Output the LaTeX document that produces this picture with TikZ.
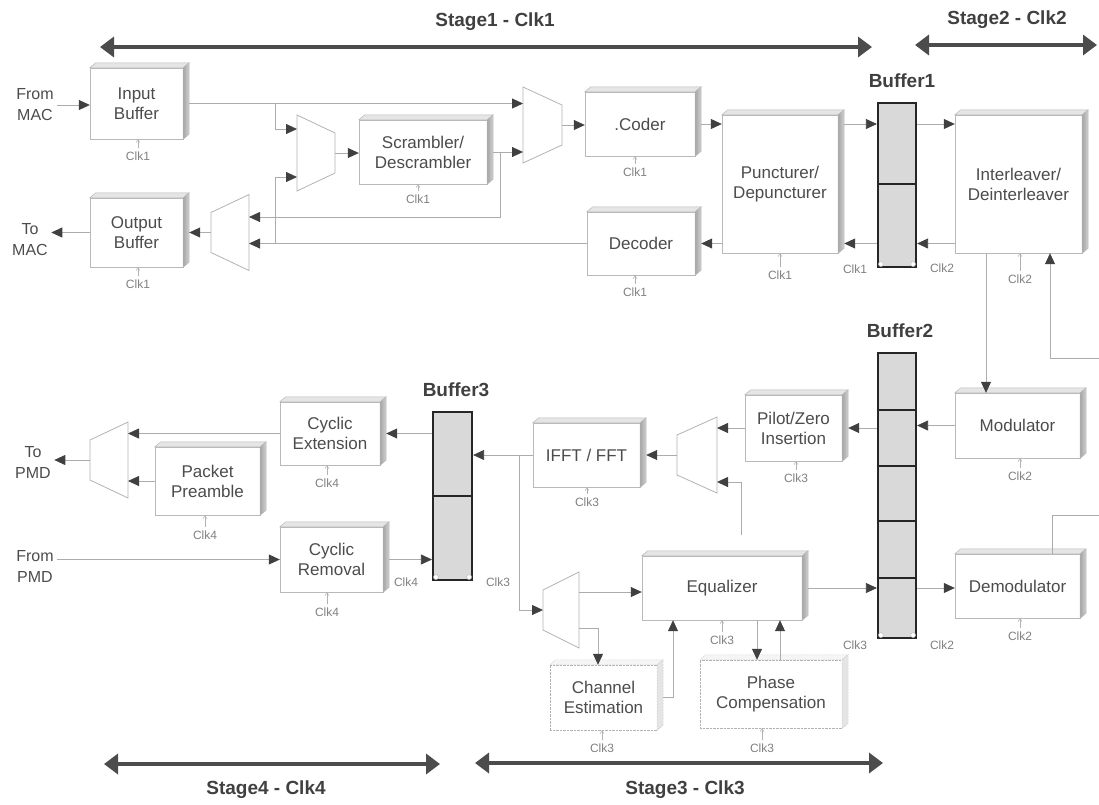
\documentclass[tikz,border=0pt]{standalone}
\usepackage{fontspec}
\setmainfont{Liberation Sans}
\usepackage{tikz}
\usetikzlibrary{arrows.meta}

\tikzset{
  blk/.style={draw=gray!55, fill=white, text=black!70, align=center,
    inner sep=0pt, font=\fontsize{17}{20}\selectfont},
  dblk/.style={blk, draw=gray!60, densely dotted},
  clklbl/.style={text=black!50, font=\fontsize{12}{14}\selectfont},
  bigl/.style={text=black!75, font=\bfseries\fontsize{19}{22}\selectfont},
  iolbl/.style={text=black!70, align=center, font=\fontsize{16}{21}\selectfont},
  conn/.style={draw=gray!65, line width=0.8pt,
    -{Triangle[length=11pt,width=10pt,color=black!75]}},
  wire/.style={draw=gray!65, line width=0.8pt},
  clkarr/.style={draw=gray!60, line width=0.5pt, -{Straight Barb[length=3pt,width=4pt]}},
  muxline/.style={draw=gray!60, line width=0.8pt},
  bufbox/.style={draw=black!85, line width=2.2pt, fill=gray!30},
  bufline/.style={draw=black!85, line width=1.6pt},
  stage/.style={draw=black!70, line width=4.5pt,
    {Triangle[length=14pt,width=20pt]}-{Triangle[length=14pt,width=20pt]}},
  topface/.style={fill=gray!20, draw=gray!55, line width=0.5pt},
  sideface/.style={left color=gray!70, right color=gray!35, draw=gray!55, line width=0.5pt},
  dtopface/.style={fill=gray!8, draw=gray!55, line width=0.5pt, densely dotted},
  dsideface/.style={fill=gray!20, draw=gray!55, line width=0.5pt, densely dotted}
}

% mux: name, long side x, short side x, centre y, pin offset
\newcommand{\muxbox}[5]{%
  \draw[muxline] (#2,#4-38) -- (#3,#4-20) -- (#3,#4+20) -- (#2,#4+38) -- cycle;
  \coordinate (#1-l) at (#2,#4);
  \coordinate (#1-a) at (#2,#4-#5);
  \coordinate (#1-b) at (#2,#4+#5);
  \coordinate (#1-s) at (#3,#4);
}

\begin{document}
\begin{tikzpicture}[x=1pt, y=-1pt]
\useasboundingbox (0,0) rectangle (1099,804);

% stages
\coordinate (s1l) at (100,47);  \coordinate (s1r) at (872,47);
\coordinate (s2l) at (915,45);  \coordinate (s2r) at (1097,45);
\coordinate (s4l) at (104,764); \coordinate (s4r) at (440,764);
\coordinate (s3l) at (475,763); \coordinate (s3r) at (883,763);
\draw[stage] (s1l) -- (s1r);
\draw[stage] (s2l) -- (s2r);
\draw[stage] (s4l) -- (s4r);
\draw[stage] (s3l) -- (s3r);
\node[bigl] (st1) at (495,22) {Stage1 - Clk1};
\node[bigl] (st2) at (1007,20) {Stage2 - Clk2};
\node[bigl] (st4) at (266,790) {Stage4 - Clk4};
\node[bigl] (st3) at (685,790) {Stage3 - Clk3};

% in / out
\node[iolbl] (frommac) at (35,105) {From\\MAC};
\node[iolbl] (tomac) at (30,240) {To\\MAC};
\node[iolbl] (topmd) at (33,462) {To\\PMD};
\node[iolbl] (frompmd) at (35,566) {From\\PMD};

% blocks
\node[blk, minimum width=93, minimum height=71] (inbuf) at (136.5,103.5) {Input\\Buffer};
\node[blk, minimum width=93, minimum height=69] (outbuf) at (136.5,232.5) {Output\\Buffer};
\node[blk, minimum width=128, minimum height=64] (scr) at (423,152) {Scrambler/\\Descrambler};
\node[blk, minimum width=110, minimum height=64] (coder) at (640,124) {.Coder};
\node[blk, minimum width=108, minimum height=63] (dec) at (641,243.5) {Decoder};
\node[blk, minimum width=116, minimum height=138] (punct) at (780,184) {Puncturer/\\Depuncturer};
\node[blk, minimum width=127, minimum height=138] (inter) at (1018.5,184) {Interleaver/\\Deinterleaver};
\node[blk, minimum width=125, minimum height=65] (modu) at (1017.5,425.5) {Modulator};
\node[blk, minimum width=125, minimum height=64] (demod) at (1017.5,586) {Demodulator};
\node[blk, minimum width=97, minimum height=66] (pilot) at (793.5,428) {Pilot/Zero\\Insertion};
\node[blk, minimum width=107, minimum height=64] (ifft) at (586.5,455) {IFFT / FFT};
\node[blk, minimum width=160, minimum height=64] (equal) at (722,588) {Equalizer};
\node[dblk, minimum width=107, minimum height=65] (chest) at (603.5,697.5) {Channel\\Estimation};
\node[dblk, minimum width=142, minimum height=68] (phase) at (771,694) {Phase\\Compensation};
\node[blk, minimum width=100, minimum height=63] (cycext) at (330,433.5) {Cyclic\\Extension};
\node[blk, minimum width=105, minimum height=68] (pream) at (207.5,481) {Packet\\Preamble};
\node[blk, minimum width=103, minimum height=65] (cycrem) at (331.5,559.5) {Cyclic\\Removal};

\foreach \n in {inbuf,outbuf,scr,coder,dec,punct,inter,modu,demod,pilot,ifft,equal,cycext,pream,cycrem} {
  \draw[topface] (\n.north west) -- ++(6,-5) -- ([shift={(6,-5)}]\n.north east) -- (\n.north east) -- cycle;
  \draw[sideface] (\n.north east) -- ++(6,-5) -- ([shift={(6,-5)}]\n.south east) -- (\n.south east) -- cycle;
}
\foreach \n in {chest,phase} {
  \draw[dtopface] (\n.north west) -- ++(6,-5) -- ([shift={(6,-5)}]\n.north east) -- (\n.north east) -- cycle;
  \draw[dsideface] (\n.north east) -- ++(6,-5) -- ([shift={(6,-5)}]\n.south east) -- (\n.south east) -- cycle;
}

% clocks of the blocks
\node[clklbl] (k-inbuf) at (138,156) {Clk1};
\node[clklbl] (k-outbuf) at (138,284) {Clk1};
\node[clklbl] (k-scr) at (418,199) {Clk1};
\node[clklbl] (k-coder) at (635,172) {Clk1};
\node[clklbl] (k-dec) at (635,292) {Clk1};
\node[clklbl] (k-punct) at (780,275) {Clk1};
\node[clklbl] (k-inter) at (1020,279) {Clk2};
\node[clklbl] (k-modu) at (1020,476) {Clk2};
\node[clklbl] (k-demod) at (1020,636) {Clk2};
\node[clklbl] (k-pilot) at (796,478) {Clk3};
\node[clklbl] (k-ifft) at (587,502) {Clk3};
\node[clklbl] (k-equal) at (722,640) {Clk3};
\node[clklbl] (k-chest) at (602,748) {Clk3};
\node[clklbl] (k-phase) at (762,748) {Clk3};
\node[clklbl] (k-cycext) at (327,483) {Clk4};
\node[clklbl] (k-pream) at (205,535) {Clk4};
\node[clklbl] (k-cycrem) at (327,612) {Clk4};
\foreach \n in {inbuf,outbuf,scr,coder,dec,punct,inter,modu,demod,pilot,ifft,equal,chest,phase,cycext,pream,cycrem}
  \draw[clkarr] (k-\n.north) -- (k-\n.north |- \n.south);

% buffers
\node[bufbox, minimum width=38, minimum height=164] (buf1) at (897,185) {};
\node[bufbox, minimum width=38, minimum height=285] (buf2) at (897,495.5) {};
\node[bufbox, minimum width=39, minimum height=168] (buf3) at (452.5,496) {};
\draw[bufline] (buf1.west |- 0,184) -- (buf1.east |- 0,184);
\foreach \y in {410,466,521,578}
  \draw[bufline] (buf2.west |- 0,\y) -- (buf2.east |- 0,\y);
\draw[bufline] (buf3.west |- 0,496) -- (buf3.east |- 0,496);
\foreach \b in {buf1,buf2,buf3} {
  \draw[gray!60, fill=white] ([shift={(4,-4)}]\b.south west) circle (2.5pt);
  \draw[gray!60, fill=white] ([shift={(-4,-4)}]\b.south east) circle (2.5pt);
}
\node[bigl] (b1lbl) at (902,81) {Buffer1};
\node[bigl] (b2lbl) at (900,331) {Buffer2};
\node[bigl] (b3lbl) at (456,390) {Buffer3};
\node[clklbl] (kb1a) at (855,269) {Clk1};
\node[clklbl] (kb1b) at (942,268) {Clk2};
\node[clklbl] (kb2a) at (855,645) {Clk3};
\node[clklbl] (kb2b) at (942,645) {Clk2};
\node[clklbl] (kb3a) at (406,582) {Clk4};
\node[clklbl] (kb3b) at (498,582) {Clk3};

% muxes
\muxbox{m1}{297}{335}{153}{24}
\muxbox{m2}{523}{562}{125}{23}
\muxbox{m3}{249}{211}{232.5}{16}
\muxbox{m4}{717}{677}{455}{27}
\muxbox{m5}{579}{543}{610}{18}
\muxbox{m6}{128}{90}{460}{30}

% junctions
\coordinate (j1) at (275,0);
\coordinate (j2) at (500,217);
\coordinate (j3) at (986,0);
\coordinate (j4) at (1050,358);
\coordinate (e1) at (1099,358);
\coordinate (j5) at (1052,515);
\coordinate (e2) at (1099,515);
\coordinate (j6) at (741,535);
\coordinate (j7) at (519,0);
\coordinate (j8) at (598,0);
\coordinate (j9) at (673,697);
\coordinate (j10) at (757,0);
\coordinate (j11) at (780,0);

% stage 1
\draw[conn] (frommac.east) -- (frommac.east -| inbuf.west);
\draw[conn] ([xshift=6pt]inbuf.east) -- (inbuf.east -| m2-l);
\draw[conn] (inbuf.east -| j1) |- (m1-a);
\draw[conn] (dec.west) -- (dec.west -| m3-l);
\draw[conn] (dec.west -| j1) |- (m1-b);
\draw[conn] (m1-s) -- (m1-s -| scr.west);
\draw[conn] ([xshift=6pt]scr.east) -- (scr.east -| m2-l);
\draw[conn] (scr.east -| j2) -- (j2) -- (j2 -| m3-l);
\draw[conn] (m2-s) -- (m2-s -| coder.west);
\draw[conn] ([xshift=6pt]coder.east) -- (coder.east -| punct.west);
\draw[conn] ([xshift=6pt]punct.east |- coder) -- (buf1.west |- coder);
\draw[conn] (buf1.west |- dec) -- ([xshift=6pt]punct.east |- dec);
\draw[conn] (punct.west |- dec) -- ([xshift=6pt]dec.east);
\draw[conn] (m3-s) -- ([xshift=6pt]outbuf.east);
\draw[conn] (outbuf.west) -- (outbuf.west -| tomac.east);

% stage 2
\draw[conn] (buf1.east |- coder) -- (inter.west |- coder);
\draw[conn] (inter.west |- dec) -- (buf1.east |- dec);
\draw[conn] (inter.south -| j3) -- (modu.north -| j3);
\draw[conn] (e1) -- (j4) -- (j4 |- inter.south);
\draw[wire] (demod.north -| j5) -- (j5) -- (e2);
\draw[conn] (modu.west) -- (modu.west -| buf2.east);
\draw[conn] (buf2.east |- equal) -- (demod.west |- equal);

% stage 3
\draw[conn] (buf2.west |- pilot) -- ([xshift=6pt]pilot.east);
\draw[conn] (pilot.west) -- (m4-a);
\draw[conn] (j6) |- (m4-b);
\draw[conn] (m4-s) -- ([xshift=6pt]ifft.east);
\draw[conn] (ifft.west) -- (ifft.west -| buf3.east);
\draw[conn] (ifft.west -| j7) |- (m5-s);
\draw[conn] (m5-a) -- (m5-a -| equal.west);
\draw[conn] (m5-b) -| (chest.north -| j8);
\draw[conn] ([xshift=6pt]chest.east |- j9) -- (j9) -- (j9 |- equal.south);
\draw[conn] (equal.south -| j10) -- (phase.north -| j10);
\draw[conn] (phase.north -| j11) -- (equal.south -| j11);
\draw[conn] ([xshift=6pt]equal.east) -- (equal.east -| buf2.west);

% stage 4
\draw[conn] (buf3.west |- cycext) -- ([xshift=6pt]cycext.east);
\draw[conn] (cycext.west) -- (cycext.west -| m6-l);
\draw[conn] (pream.west) -- (pream.west -| m6-l);
\draw[conn] (m6-s) -- (m6-s -| topmd.east);
\draw[conn] (frompmd.east |- cycrem) -- (cycrem.west);
\draw[conn] ([xshift=6pt]cycrem.east) -- (cycrem.east -| buf3.west);
\end{tikzpicture}
\end{document}
